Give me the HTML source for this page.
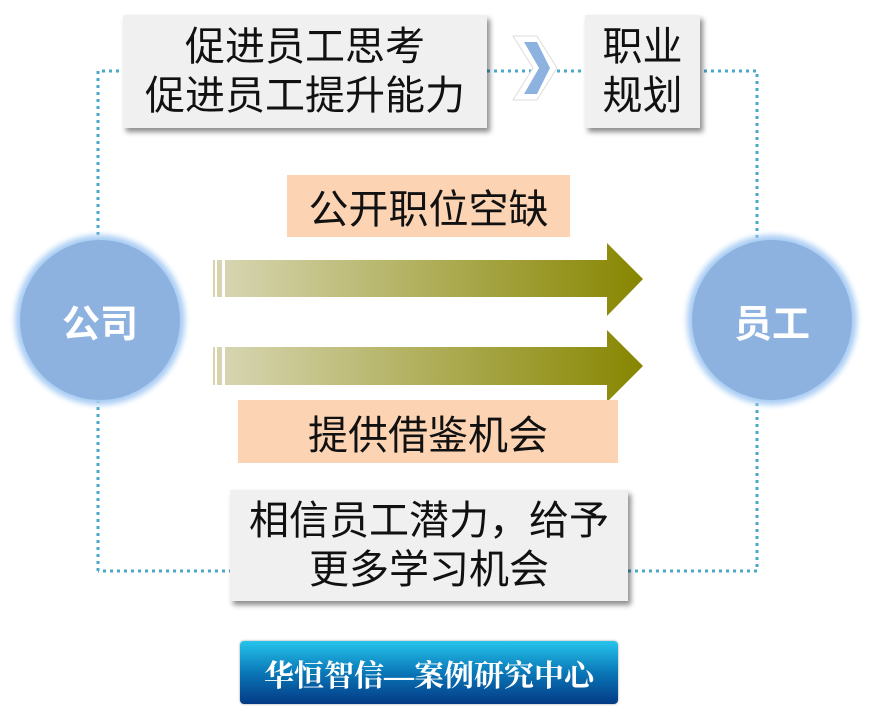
<!DOCTYPE html>
<html><head><meta charset="utf-8"><style>
body{margin:0;width:869px;height:717px;background:#fff;position:relative;overflow:hidden;font-family:"Liberation Sans","Noto Sans CJK SC",sans-serif}
.a{position:absolute}
.box{position:absolute;background:#f0f0f0;box-shadow:3px 4px 5px rgba(0,0,0,.45);display:flex;align-items:center;justify-content:center;text-align:center;color:#111;line-height:1.22}
.or{position:absolute;background:#fcd4b4;display:flex;align-items:center;justify-content:center;color:#111}
.c{position:absolute;width:160px;height:160px;border-radius:50%;background:#8db2e0;box-shadow:0 0 6px 5px #a9cdf4;color:#fff;font-weight:bold;font-size:38px;display:flex;align-items:center;justify-content:center}
</style></head><body>
<svg class="a" style="left:0;top:0" width="869" height="717">
<defs><linearGradient id="g" x1="0" x2="1"><stop offset="0" stop-color="#d6d5b0"/><stop offset="1" stop-color="#878600"/></linearGradient></defs>
<path d="M98 571 V71 H757 V571 H98" fill="none" stroke="#4aa8c8" stroke-width="3" stroke-dasharray="3 4"/>
<rect x="213" y="260" width="2" height="37" fill="#d6d5b0"/><rect x="217" y="260" width="5" height="37" fill="#d6d5b0"/>
<path d="M225 260 H607 V243 L643 279 L607 316 V297 H225Z" fill="url(#g)"/>
<rect x="213" y="347" width="2" height="38" fill="#d6d5b0"/><rect x="217" y="347" width="5" height="38" fill="#d6d5b0"/>
<path d="M225 347 H607 V330 L643 366 L607 402 V385 H225Z" fill="url(#g)"/>
<path d="M513 36 L537 36 L557 68 L537 100 L513 100 L533 68Z" fill="#fff" stroke="#ddd" stroke-width="1"/>
<path d="M524 42 L537 42 L550 68 L537 94 L524 94 L539 68Z" fill="#8db2e0"/>
</svg>
<div class="c" style="left:20px;top:240px">公司</div>
<div class="c" style="left:692px;top:240px">员工</div>
<div class="box" style="left:123px;top:15px;width:364px;height:113px;font-size:40px">促进员工思考<br>促进员工提升能力</div>
<div class="box" style="left:585px;top:15px;width:115px;height:113px;font-size:40px">职业<br>规划</div>
<div class="or" style="left:287px;top:175px;width:283px;height:62px;font-size:40px">公开职位空缺</div>
<div class="or" style="left:238px;top:400px;width:380px;height:63px;font-size:40px">提供借鉴机会</div>
<div class="box" style="left:230px;top:490px;width:398px;height:111px;font-size:40px">相信员工潜力，给予<br>更多学习机会</div>
<div class="a" style="left:240px;top:641px;width:378px;height:63px;border-radius:4px;background:linear-gradient(#26c4ec,#0a78b8 50%,#043a86);box-shadow:0 0 2px #999;color:#fff;font-size:30px;font-weight:bold;display:flex;align-items:center;justify-content:center;font-family:'Liberation Serif','Noto Serif CJK SC',serif">华恒智信—案例研究中心</div>
</body></html>
